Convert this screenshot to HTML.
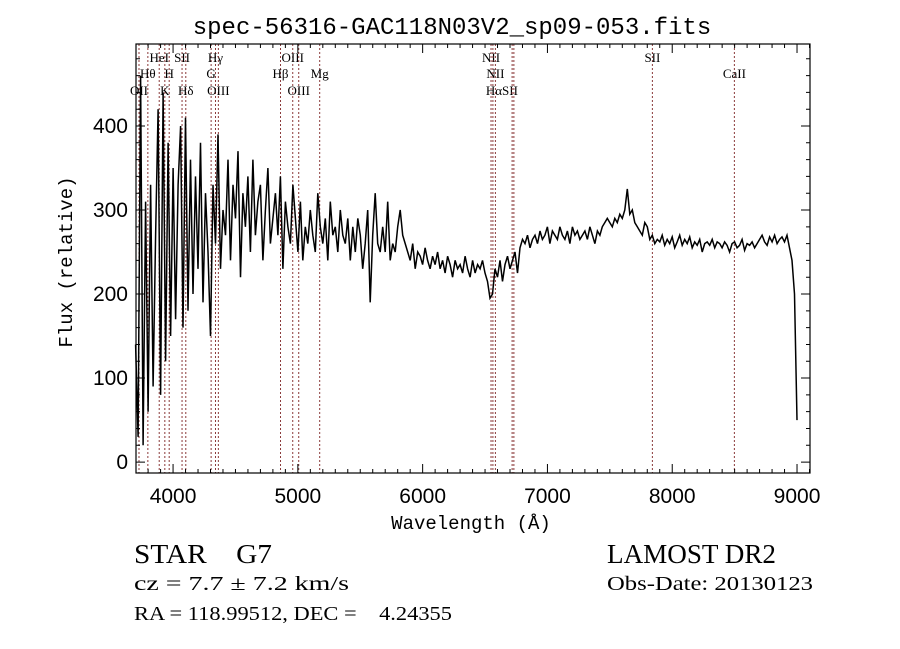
<!DOCTYPE html>
<html><head><meta charset="utf-8"><style>
body{margin:0;background:#fff;width:900px;height:649px;overflow:hidden}
svg{display:block}
text{white-space:pre}
.t{font-family:"Liberation Mono",monospace}
.s{font-family:"Liberation Sans",sans-serif}
.r{font-family:"Liberation Serif",serif}
</style></head><body>
<svg id="c" width="900" height="649" xmlns="http://www.w3.org/2000/svg" xml:space="preserve">
<text x="452" y="34" text-anchor="middle" font-size="24" class="t">spec-56316-GAC118N03V2_sp09-053.fits</text>
<text x="471" y="529" text-anchor="middle" font-size="19" class="t">Wavelength (Å)</text>
<text transform="translate(72,262) rotate(-90)" text-anchor="middle" font-size="19" class="t">Flux (relative)</text>
<text x="134" y="563" font-size="27" class="r" textLength="138" lengthAdjust="spacingAndGlyphs">STAR    G7</text>
<text x="134" y="590" font-size="20" class="r" textLength="215" lengthAdjust="spacingAndGlyphs">cz = 7.7 ± 7.2 km/s</text>
<text x="134" y="620" font-size="20" class="r" textLength="318" lengthAdjust="spacingAndGlyphs">RA = 118.99512, DEC =    4.24355</text>
<text x="607" y="563" font-size="27" class="r" textLength="169" lengthAdjust="spacingAndGlyphs">LAMOST DR2</text>
<text x="607" y="590" font-size="20" class="r" textLength="206" lengthAdjust="spacingAndGlyphs">Obs-Date: 20130123</text>
<g id="plot"></g>
</svg>
<script>
const waveStart = 3700, waveStep = 20;
const flux = [
140,30,460,20,310,60,330,90,270,420,
80,440,120,380,150,350,170,330,400,160,
410,180,360,200,340,230,380,190,320,250,
150,330,260,390,230,300,270,360,240,330,
290,370,220,320,280,340,250,360,270,310,
330,240,300,350,260,290,320,270,340,230,
310,280,260,330,290,250,310,240,280,260,
300,270,250,320,280,260,290,240,310,270,
280,250,300,270,260,290,240,280,250,290,
270,230,260,300,190,270,320,260,250,280,
250,310,240,260,250,280,300,270,260,250,
240,260,230,250,245,235,255,240,230,245,
235,250,230,240,225,245,235,220,240,230,
235,225,245,230,220,240,225,235,230,240,
225,215,195,200,230,220,240,215,235,245,
230,240,250,225,255,265,260,270,255,265,
270,260,275,265,270,280,260,275,270,265,
280,270,265,275,260,280,270,275,265,270,
275,265,280,270,260,275,270,280,285,290,
285,280,290,285,295,290,300,325,295,300,
285,280,275,270,285,280,265,270,260,265,
262,270,258,265,260,268,255,262,270,258,
265,260,268,255,262,258,265,250,260,262,
258,265,255,262,260,255,262,258,250,260,
262,255,258,265,252,260,258,262,255,260,
265,270,262,258,268,262,270,260,265,268,
262,270,255,240,200,50];
const xTicks = [4000,5000,6000,7000,8000,9000];
const yTicks = [0,100,200,300,400];
const lineNames = ["OII","Hθ","HeI","K","H","SII","Hδ","G","Hγ","OIII","Hβ","OIII","OIII","Mg","NII","HαSII","NII","SII","SII","SII","CaII"];
const lineWaves = [3727,3798,3889,3934,3969,4072,4102,4305,4340,4363,4861,4959,5007,5175,6548,6563,6583,6717,6731,7841,8498];
const lineRows = [3,2,1,3,2,1,3,2,1,3,2,1,3,2,1,3,2,0,0,1,2];
const labelShift = [0,0,0,0,0,0,0,0,0,0,0,0,0,0,0,9,0,0,0,0,0];

const L=136,R=810,T=44,B=473, X0=3703,X1=9104, Y0=-13,Y1=497.6;
const sx=w=>L+(w-X0)/(X1-X0)*(R-L);
const sy=f=>B-(f-Y0)/(Y1-Y0)*(B-T);
const NS="http://www.w3.org/2000/svg";
const g=document.getElementById('plot');
function mk(tag,attrs){const e=document.createElementNS(NS,tag);for(const k in attrs)e.setAttribute(k,attrs[k]);g.appendChild(e);return e;}

lineWaves.forEach((w,i)=>{
  const l=mk('line',{x1:sx(w),x2:sx(w),y1:T,y2:B,stroke:'#8b3a3a','stroke-width':1,'stroke-dasharray':'2,2'});
  
  
  if(lineRows[i]>0){
    const t=mk('text',{x:sx(w)+labelShift[i],y:[0,62,78,95][lineRows[i]],'text-anchor':'middle','font-size':13,'class':'r'});
    t.textContent=lineNames[i];
    
    
  }
});

let d='';
flux.forEach((f,i)=>{const w=waveStart+i*waveStep;d+=(i?'L':'M')+sx(w).toFixed(1)+' '+sy(f).toFixed(1);});
const p=mk('path',{d:d,fill:'none',stroke:'#000','stroke-width':1.5});



const fr=mk('rect',{x:L,y:T,width:R-L,height:B-T,fill:'none',stroke:'#000','stroke-width':1.2});



let td='';
for(let w=3800;w<=9100;w+=100){const x=sx(w),len=(w%1000===0)?9:4;td+=`M${x} ${B}v${-len}M${x} ${T}v${len}`;}
for(let f=0;f<=480;f+=20){const y=sy(f),len=(f%100===0)?9:4;td+=`M${L} ${y}h${len}M${R} ${y}h${-len}`;}
const tk=mk('path',{d:td,stroke:'#000','stroke-width':1,fill:'none'});



xTicks.forEach(w=>{const t=mk('text',{x:sx(w),y:503,'text-anchor':'middle','font-size':21,'class':'s'});t.textContent=w;

});
yTicks.forEach(f=>{const t=mk('text',{x:128,y:sy(f)+7,'text-anchor':'end','font-size':21,'class':'s'});t.textContent=f;

});
</script>
</body></html>
